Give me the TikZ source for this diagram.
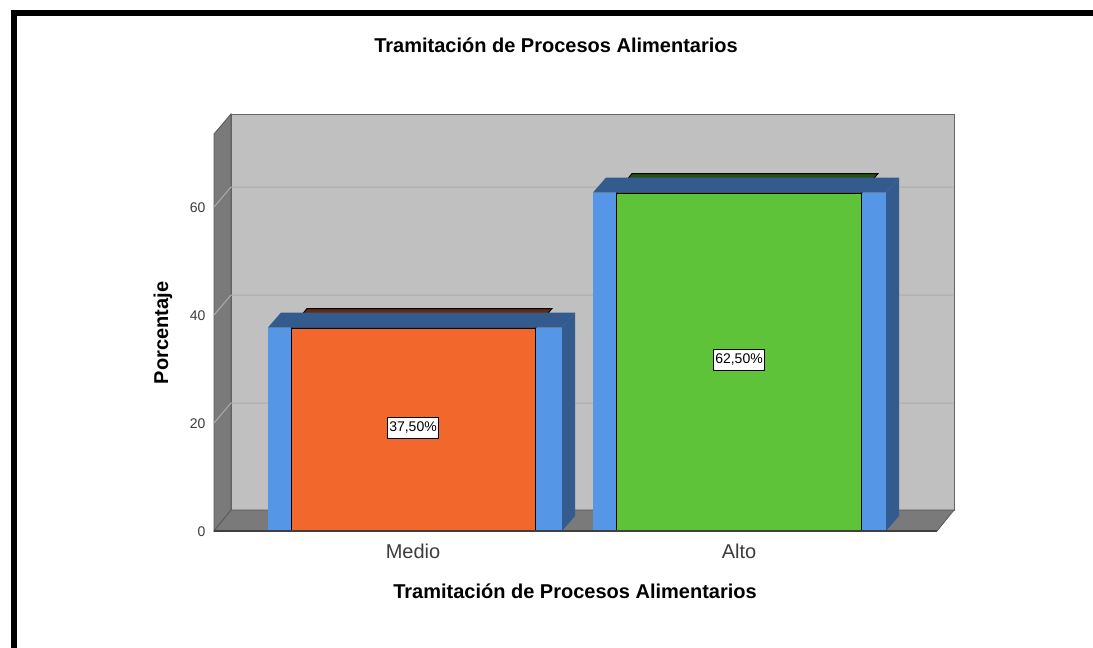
\documentclass[tikz,border=0pt]{standalone}
\usepackage{fontspec}
\setmainfont{Liberation Sans}
\definecolor{wallgray}{RGB}{192,192,192}
\definecolor{sidegray}{RGB}{122,122,122}
\definecolor{gridgray}{RGB}{172,172,172}
\definecolor{barorange}{RGB}{242,104,44}
\definecolor{bargreen}{RGB}{94,195,56}
\definecolor{lightblue}{RGB}{85,150,230}
\definecolor{darkblue}{RGB}{51,91,141}
\definecolor{labelgray}{RGB}{60,60,60}

\begin{document}
\begin{tikzpicture}[x=1pt,y=-1pt,
  wall/.style={fill=sidegray,draw=black!65,line width=0.8pt},
  backwall/.style={fill=wallgray,draw=black!60,line width=1pt},
  grid/.style={draw=gridgray,line width=1pt},
  front/.style={draw=black,line width=1pt},
  bluefront/.style={fill=lightblue},
  bluetop/.style={fill=darkblue},
  valbox/.style={draw=black,fill=white,line width=0.8pt,inner sep=2pt,minimum height=21pt,font=\fontsize{14}{16}\selectfont},
  ticklbl/.style={anchor=east,text=labelgray,font=\fontsize{14}{16}\selectfont},
  catlbl/.style={text=labelgray,font=\fontsize{20}{24}\selectfont},
  ttl/.style={font=\fontsize{20}{24}\selectfont\bfseries}]

\useasboundingbox (0,0) rectangle (1093,648);
\fill[white] (0,0) rectangle (1093,648);

% frame
\draw[line width=6pt] (14,660) -- (14,12.5) -- (1100,12.5);

\node[ttl] (title) at (556,45) {Tramitación de Procesos Alimentarios};

% walls and floor
\draw[backwall] (231,114) rectangle (954,510);
\draw[wall] (214,531) -- (214,134) -- (231,114) -- (231,510) -- cycle;
\draw[wall] (214,531) -- (231,510) -- (954,510) -- (937,531) -- cycle;

% grid lines
\draw[grid] (214,423) -- (231,403) -- (953,403);
\draw[grid] (214,315) -- (231,295) -- (953,295);
\draw[grid] (214,207) -- (231,187) -- (953,187);

\node[ticklbl] (tick0) at (209,532) {0};
\node[ticklbl] (tick20) at (209,424) {20};
\node[ticklbl] (tick40) at (209,316) {40};
\node[ticklbl] (tick60) at (209,208) {60};

% Medio
\draw[front,fill=barorange!40!black] (291,328.5) -- (307,308.5) -- (552,308.5) -- (535,328.5) -- cycle;
\fill[bluefront] (268,327.5) rectangle (562,531);
\fill[bluetop] (268,327.5) -- (281,312.5) -- (575,312.5) -- (562,327.5) -- cycle;
\fill[bluetop] (562,327.5) -- (575,312.5) -- (575,516) -- (562,531) -- cycle;
\draw[front,fill=barorange] (291,328.5) rectangle (535,531);

% Alto
\draw[front,fill=bargreen!40!black] (616,193.5) -- (632,173.5) -- (878,173.5) -- (861,193.5) -- cycle;
\fill[bluefront] (593,192.5) rectangle (886,531);
\fill[bluetop] (593,192.5) -- (606,177.5) -- (899,177.5) -- (886,192.5) -- cycle;
\fill[bluetop] (886,192.5) -- (899,177.5) -- (899,516) -- (886,531) -- cycle;
\draw[front,fill=bargreen] (616,193.5) rectangle (861,531);

\draw[draw=black!75,line width=1.2pt] (214,531) -- (937,531);

\node[valbox] (valmedio) at (413,428) {37,50\%};
\node[valbox] (valalto) at (739,360) {62,50\%};

\node[catlbl] (lblmedio) at (413,551) {Medio};
\node[catlbl] (lblalto) at (739,551) {Alto};

\node[ttl] (xtitle) at (575,591) {Tramitación de Procesos Alimentarios};
\node[ttl,rotate=90] (ytitle) at (163,333) {Porcentaje};

\end{tikzpicture}
\end{document}
